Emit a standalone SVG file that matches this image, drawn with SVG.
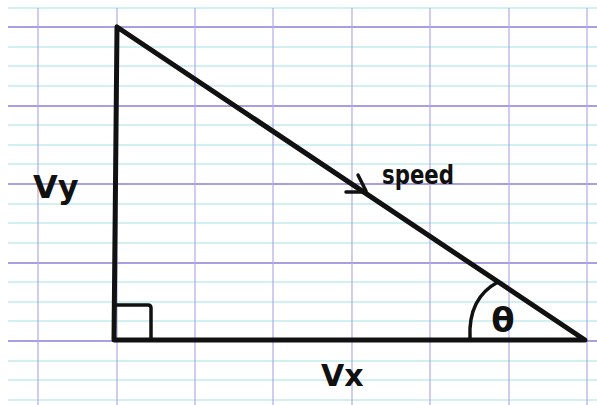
<svg xmlns="http://www.w3.org/2000/svg" width="597" height="405" viewBox="0 0 597 405">
<style>
.cy{stroke:#c4ecee;stroke-width:1.5;fill:none}
.pu{stroke:#a89fe0;stroke-width:1.8;fill:none}
.pv{stroke:#b2aae6;stroke-width:1.2;fill:none}
.ink{stroke:#111;stroke-width:5;fill:none;stroke-linecap:round;stroke-linejoin:round}
.thin{stroke:#111;stroke-width:3.5;fill:none;stroke-linecap:round;stroke-linejoin:round}
.lab{font-family:"DejaVu Sans",sans-serif;font-weight:bold;fill:#111}
</style>
<rect width="597" height="405" fill="#ffffff"/>
<g id="grid">
<g class="cy">
<path d="M8 8H597M8 47H597M8 66H597M8 86H597M8 125H597M8 145H597M8 164H597M8 204H597M8 223H597M8 243H597M8 282H597M8 302H597M8 321H597M8 361H597M8 380H597M8 400H597"/>
</g>
<g class="pu">
<path d="M8 27H597M8 106H597M8 184H597M8 263H597M8 341H597"/>
</g>
<g class="pv">
<path d="M38 8V405M117 8V405M195 8V405M273 8V405M352 8V405M430 8V405M509 8V405M587 8V405"/>
</g>
</g>
<g id="triangle">
<path class="ink" d="M117 27L114 340L585 340Z"/>
<path class="thin" d="M115 305H148Q151 305 151 308V340"/>
</g>
<g id="angle">
<path class="thin" d="M470 338Q468 298 498 282"/>
<text class="lab" x="503" y="332" font-size="34" text-anchor="middle">θ</text>
</g>
<g id="connectors">
<path class="thin" d="M346 192H366M358 175Q362 183 366 191"/>
</g>
<g id="labels">
<text class="lab" x="382" y="184" font-size="26" textLength="72" lengthAdjust="spacingAndGlyphs">speed</text>
<text class="lab" x="33" y="198" font-size="32">Vy</text>
<text class="lab" x="321" y="386" font-size="30">Vx</text>
</g>
</svg>
